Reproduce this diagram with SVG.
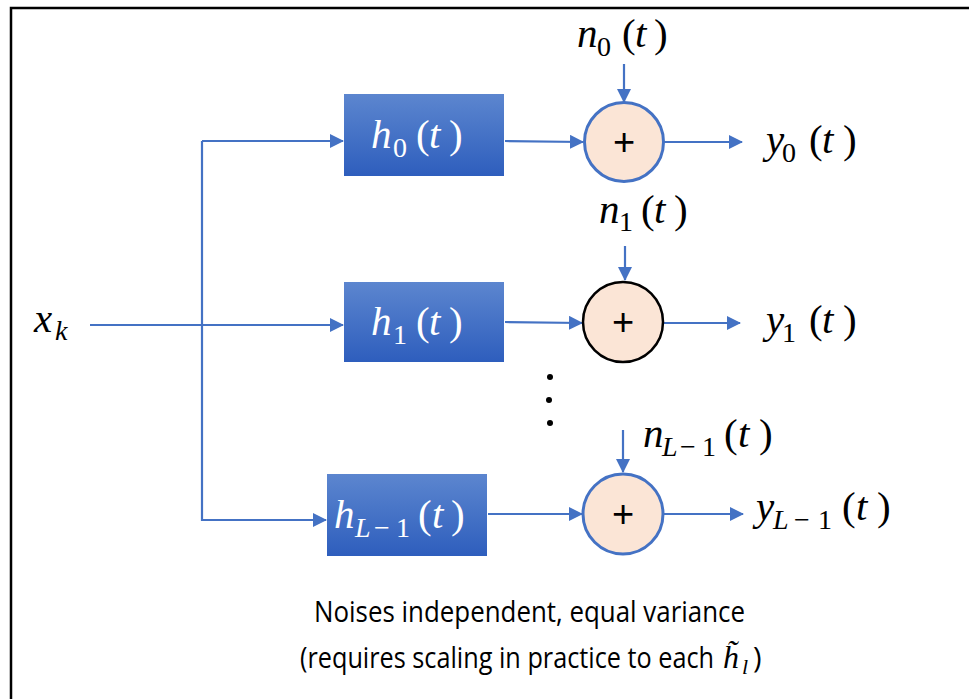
<svg xmlns="http://www.w3.org/2000/svg" width="969" height="699" viewBox="0 0 969 699">
<style>
.conn{stroke:#4472C4;stroke-width:2.2;fill:none}
.box{fill:url(#bg)}
.sum{fill:#FBE5D6;stroke:#4472C4;stroke-width:3}
.m{font-family:"Liberation Serif","Times New Roman",serif;font-size:41px;fill:#000}
.i{font-style:italic}
.s{font-size:28px}
.w{fill:#fff}
.plus{font-family:"Liberation Sans",Arial,sans-serif;font-size:38px;text-anchor:middle;fill:#000}
.note{font-family:"Open Sans","Noto Sans",sans-serif;font-size:29px;fill:#000}
.mh{font-family:"Liberation Serif","Times New Roman",serif;font-style:italic}
</style>
<defs>
<linearGradient id="bg" x1="0" y1="0" x2="0" y2="1">
<stop offset="0" stop-color="#5C86CF"/>
<stop offset="1" stop-color="#2E5EBD"/>
</linearGradient>
<marker id="ahb" markerWidth="14" markerHeight="14" refX="13" refY="7" orient="auto" markerUnits="userSpaceOnUse" viewBox="0 0 14 14">
<path d="M0,0 L14,7 L0,14 z" fill="#4472C4"/>
</marker>
</defs>
<rect x="11" y="8" width="1000" height="740" fill="#fff" stroke="#000" stroke-width="2.5"/>

<g id="connectors">
<line class="conn" x1="90" y1="325" x2="343" y2="325" marker-end="url(#ahb)"/>
<line class="conn" x1="202" y1="141" x2="202" y2="521"/>
<line class="conn" x1="202" y1="141" x2="343" y2="141" marker-end="url(#ahb)"/>
<line class="conn" x1="202" y1="520" x2="326" y2="520" marker-end="url(#ahb)"/>
<line class="conn" x1="505" y1="141" x2="583" y2="142" marker-end="url(#ahb)"/>
<line class="conn" x1="505" y1="322" x2="582" y2="323" marker-end="url(#ahb)"/>
<line class="conn" x1="488" y1="514" x2="582" y2="514" marker-end="url(#ahb)"/>
<line class="conn" x1="664" y1="142" x2="742" y2="142" marker-end="url(#ahb)"/>
<line class="conn" x1="663" y1="323" x2="740" y2="323" marker-end="url(#ahb)"/>
<line class="conn" x1="664" y1="514" x2="743" y2="514" marker-end="url(#ahb)"/>
<line class="conn" x1="624" y1="64" x2="624" y2="102" marker-end="url(#ahb)"/>
<line class="conn" x1="625" y1="246" x2="625" y2="280" marker-end="url(#ahb)"/>
<line class="conn" x1="623" y1="430" x2="623" y2="472" marker-end="url(#ahb)"/>
</g>

<g id="box0">
<rect class="box" x="344" y="94" width="160" height="82"/>
<text class="m w" y="148"><tspan class="i" x="371">h</tspan><tspan class="s" x="393" dy="9">0</tspan><tspan x="416" dy="-9">(</tspan><tspan class="i" x="429">t</tspan><tspan x="449">)</tspan></text>
</g>
<g id="box1">
<rect class="box" x="344" y="282" width="160" height="80"/>
<text class="m w" y="335"><tspan class="i" x="371">h</tspan><tspan class="s" x="393" dy="9">1</tspan><tspan x="416" dy="-9">(</tspan><tspan class="i" x="429">t</tspan><tspan x="449">)</tspan></text>
</g>
<g id="box2">
<rect class="box" x="327" y="474" width="160" height="82"/>
<text class="m w" y="528"><tspan class="i" x="334">h</tspan><tspan class="s i" x="355" dy="9">L</tspan><tspan class="s" x="374">−</tspan><tspan class="s" x="396">1</tspan><tspan x="418" dy="-9">(</tspan><tspan class="i" x="432">t</tspan><tspan x="451">)</tspan></text>
</g>

<g id="sum0">
<circle class="sum" cx="624" cy="142" r="39.5"/>
<text class="plus" x="624" y="155">+</text>
</g>
<g id="sum1">
<circle cx="623" cy="322" r="40" fill="#FBE5D6" stroke="#000" stroke-width="2.5"/>
<text class="plus" x="623" y="335">+</text>
</g>
<g id="sum2">
<circle class="sum" cx="623" cy="514" r="40"/>
<text class="plus" x="623" y="527">+</text>
</g>

<g id="labels">
<text class="m" y="47"><tspan class="i" x="577">n</tspan><tspan class="s" x="597" dy="9">0</tspan><tspan x="622" dy="-9">(</tspan><tspan class="i" x="635">t</tspan><tspan x="654">)</tspan></text>
<text class="m" y="223"><tspan class="i" x="599">n</tspan><tspan class="s" x="619" dy="8">1</tspan><tspan x="641" dy="-8">(</tspan><tspan class="i" x="654">t</tspan><tspan x="674">)</tspan></text>
<text class="m" y="447"><tspan class="i" x="643">n</tspan><tspan class="s i" x="662" dy="9">L</tspan><tspan class="s" x="680">−</tspan><tspan class="s" x="702">1</tspan><tspan x="724" dy="-9">(</tspan><tspan class="i" x="738">t</tspan><tspan x="759">)</tspan></text>
<text class="m" y="153"><tspan class="i" x="766">y</tspan><tspan class="s" x="782" dy="9">0</tspan><tspan x="809" dy="-9">(</tspan><tspan class="i" x="822">t</tspan><tspan x="843">)</tspan></text>
<text class="m" y="333"><tspan class="i" x="766">y</tspan><tspan class="s" x="782" dy="9">1</tspan><tspan x="809" dy="-9">(</tspan><tspan class="i" x="822">t</tspan><tspan x="843">)</tspan></text>
<text class="m" y="520"><tspan class="i" x="756">y</tspan><tspan class="s i" x="773" dy="9">L</tspan><tspan class="s" x="794">−</tspan><tspan class="s" x="818">1</tspan><tspan x="842" dy="-9">(</tspan><tspan class="i" x="856">t</tspan><tspan x="877">)</tspan></text>
<text class="m" y="332"><tspan class="i" x="34">x</tspan><tspan class="s i" x="55" dy="8">k</tspan></text>
</g>

<g id="dots" fill="#000">
<circle cx="550" cy="377" r="3"/>
<circle cx="549" cy="400" r="3"/>
<circle cx="550" cy="423" r="3"/>
</g>

<g id="note">
<text class="note" x="314" y="622" textLength="431" lengthAdjust="spacingAndGlyphs">Noises independent, equal variance</text>
<text class="note" y="668"><tspan x="300" textLength="414" lengthAdjust="spacingAndGlyphs">(requires scaling in practice to each</tspan><tspan class="mh" x="723" style="font-size:32px">h̃</tspan><tspan class="mh" x="742" dy="6" style="font-size:22px">l</tspan><tspan x="753" dy="-6">)</tspan></text>
</g>
</svg>
